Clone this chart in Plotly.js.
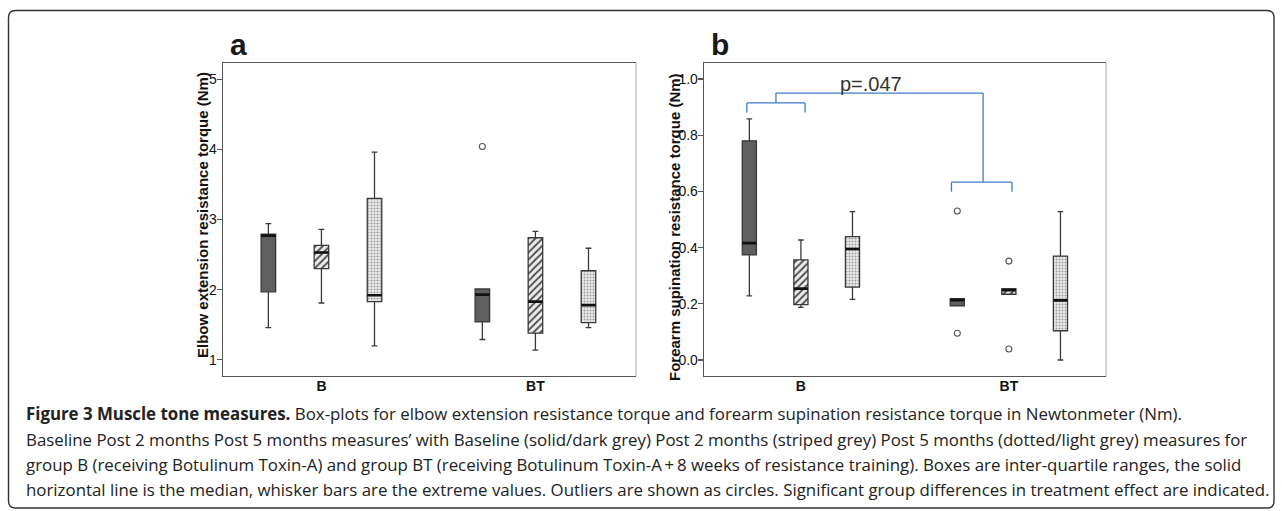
<!DOCTYPE html>
<html>
<head>
<meta charset="utf-8">
<script src="https://cdn.plot.ly/plotly-3.0.1.min.js"></script>
<style>html,body{margin:0;padding:0;background:#fff;}#chart{width:1282px;height:511px;}</style>
</head>
<body>
<div id="chart"></div>
<script>
// ---------- data ----------
const groups = ['B', 'BT'];
const periods = ['Baseline', 'Post 2 months', 'Post 5 months'];

// Panel a: elbow extension resistance torque (Nm); rows = period, columns = [B, BT]
const elbowLow  = [[1.46, 1.29], [1.81, 1.14], [1.20, 1.46]];
const elbowQ1   = [[1.97, 1.54], [2.30, 1.38], [1.83, 1.53]];
const elbowMed  = [[2.77, 1.93], [2.53, 1.83], [1.92, 1.78]];
const elbowQ3   = [[2.79, 2.01], [2.63, 2.74], [3.30, 2.27]];
const elbowHigh = [[2.94, 2.01], [2.86, 2.83], [3.96, 2.59]];
const elbowOutliers = [[[], [4.04]], [[], []], [[], []]];

// Panel b: forearm supination resistance torque (Nm)
const supLow  = [[0.228, 0.193], [0.187, 0.234], [0.216, 0.000]];
const supQ1   = [[0.374, 0.193], [0.197, 0.234], [0.259, 0.104]];
const supMed  = [[0.416, 0.213], [0.254, 0.248], [0.395, 0.212]];
const supQ3   = [[0.780, 0.218], [0.356, 0.254], [0.439, 0.370]];
const supHigh = [[0.858, 0.218], [0.427, 0.254], [0.528, 0.528]];
const supOutliers = [[[], [0.530, 0.095]], [[], [0.352, 0.039]], [[], []]];

const elbowTicks = [1, 2, 3, 4, 5];
const supTicks = [0.0, 0.2, 0.4, 0.6, 0.8, 1.0];

// significance bracket (panel b): levels in Nm
const sigText = 'p=.047';
const bracketLevels = { left: 0.915, right: 0.633, top: 0.950, leg: 0.034 };

const captionLines = [
  '<b>Figure 3 Muscle tone measures.</b> Box-plots for elbow extension resistance torque and forearm supination resistance torque in Newtonmeter (Nm).',
  'Baseline Post 2 months Post 5 months measures\u2019 with Baseline (solid/dark grey) Post 2 months (striped grey) Post 5 months (dotted/light grey) measures for',
  'group B (receiving Botulinum Toxin-A) and group BT (receiving Botulinum Toxin-A\u2009+\u20098 weeks of resistance training). Boxes are inter-quartile ranges, the solid',
  'horizontal line is the median, whisker bars are the extreme values. Outliers are shown as circles. Significant group differences in treatment effect are indicated.'
];

// ---------- styles ----------
const slot = 0.248;
const offsets = [-slot, 0, slot];
const boxW = 0.068;
const periodStyle = [
  { fill: '#5f5f5f', pattern: null },
  { fill: 'rgba(0,0,0,0)', bg: '#ececec', pattern: { shape: '/', fgcolor: '#4a4a4a', bgcolor: '#ececec', size: 5, solidity: 0.35 } },
  { fill: 'rgba(0,0,0,0)', bg: '#e8e8e8', pattern: { shape: '.', fgcolor: '#9c9c9c', bgcolor: '#ececec', size: 3, solidity: 0.35 } }
];

const traces = [];
function buildPanel(xa, ya, lo, q1, med, q3, hi, outl) {
  periods.forEach((p, pi) => {
    const xs = groups.map((g, gi) => gi + offsets[pi]);
    const st = periodStyle[pi];
    if (st.pattern) {
      traces.push({
        type: 'bar', xaxis: xa, yaxis: ya, x: xs, base: q1[pi],
        y: q3[pi].map((v, i) => v - q1[pi][i]), width: boxW,
        marker: { color: st.bg, pattern: st.pattern, line: { width: 0 } },
        showlegend: false, hoverinfo: 'skip', name: p
      });
    }
    traces.push({
      type: 'box', xaxis: xa, yaxis: ya, x: xs, name: p,
      q1: q1[pi], median: med[pi], q3: q3[pi], lowerfence: lo[pi], upperfence: hi[pi],
      width: boxW, whiskerwidth: 0.4, boxpoints: false,
      fillcolor: st.fill, line: { color: '#3a3a3a', width: 1.3 }, showlegend: false
    });
    // thick median line
    traces.push({
      type: 'box', xaxis: xa, yaxis: ya, x: xs, name: p + ' median',
      q1: med[pi], median: med[pi], q3: med[pi], lowerfence: med[pi], upperfence: med[pi],
      width: boxW, whiskerwidth: 0, boxpoints: false,
      fillcolor: 'rgba(0,0,0,0)', line: { color: '#111', width: 2.6 }, showlegend: false
    });
    const ox = [], oy = [];
    groups.forEach((g, gi) => outl[pi][gi].forEach(v => { ox.push(gi + offsets[pi]); oy.push(v); }));
    if (ox.length) {
      traces.push({
        type: 'scatter', mode: 'markers', xaxis: xa, yaxis: ya, x: ox, y: oy,
        marker: { symbol: 'circle-open', size: 6, color: '#555', line: { width: 1.1, color: '#555' } },
        showlegend: false, hoverinfo: 'y'
      });
    }
  });
}
buildPanel('x', 'y', elbowLow, elbowQ1, elbowMed, elbowQ3, elbowHigh, elbowOutliers);
buildPanel('x2', 'y2', supLow, supQ1, supMed, supQ3, supHigh, supOutliers);

// ---------- layout ----------
const W = 1282, H = 511;
const px = v => v / W, py = v => (H - v) / H;
const yDom = [py(376), py(63)];
const axisFont = { family: 'Liberation Sans, Arial, sans-serif', size: 14, color: '#111' };
const xBase = {
  tickvals: [0, 1], ticktext: groups, ticks: '', showgrid: false, zeroline: false,
  showline: true, mirror: true, linecolor: '#555', linewidth: 1.3,
  tickfont: { family: 'Liberation Sans, Arial, sans-serif', size: 14, color: '#111', weight: 'bold' },
  ticklabelstandoff: -3, fixedrange: true
};
const yBase = {
  ticks: 'outside', ticklen: 5, tickcolor: '#555', tickwidth: 1.2, showgrid: false, zeroline: false,
  showline: true, linecolor: '#555', linewidth: 1.3, tickfont: axisFont, fixedrange: true,
  ticklabelstandoff: -3
};

// bracket shapes derived from box positions
const bl = [0 + offsets[0], 0 + offsets[1]];
const br = [1 + offsets[0], 1 + offsets[1]];
const blue = '#3d7cc9';
const seg = (x0, y0, x1, y1) => ({ type: 'line', xref: 'x2', yref: 'y2', x0, y0, x1, y1, line: { color: blue, width: 1.3 } });
const midL = (bl[0] + bl[1]) / 2, midR = (br[0] + br[1]) / 2;
const shapes = [
  seg(bl[0] - 0.012, bracketLevels.left, bl[1] + 0.02, bracketLevels.left),
  seg(bl[0] - 0.012, bracketLevels.left, bl[0] - 0.012, bracketLevels.left - bracketLevels.leg),
  seg(bl[1] + 0.02, bracketLevels.left, bl[1] + 0.02, bracketLevels.left - bracketLevels.leg),
  seg(midL + 0.004, bracketLevels.left, midL + 0.004, bracketLevels.top),
  seg(midL + 0.004, bracketLevels.top, midR, bracketLevels.top),
  seg(midR, bracketLevels.top, midR, bracketLevels.right),
  seg(br[0] - 0.028, bracketLevels.right, br[1] + 0.015, bracketLevels.right),
  seg(br[0] - 0.028, bracketLevels.right, br[0] - 0.028, bracketLevels.right - bracketLevels.leg),
  seg(br[1] + 0.015, bracketLevels.right, br[1] + 0.015, bracketLevels.right - bracketLevels.leg),
  // light right edges of the panels
  { type: 'line', xref: 'x domain', yref: 'y domain', x0: 1, x1: 1, y0: 0, y1: 1, line: { color: '#bdbdbd', width: 1.3 } },
  { type: 'line', xref: 'x2 domain', yref: 'y2 domain', x0: 1, x1: 1, y0: 0, y1: 1, line: { color: '#bdbdbd', width: 1.3 } }
];
// outer rounded frame
(function () {
  const x0 = px(8.5), x1 = px(1274), y0 = py(508), y1 = py(10.5);
  const rx = 7 / W, ry = 7 / H;
  shapes.push({
    type: 'path', xref: 'paper', yref: 'paper', layer: 'below',
    path: `M ${x0 + rx},${y1} L ${x1 - rx},${y1} Q ${x1},${y1} ${x1},${y1 - ry} L ${x1},${y0 + ry} Q ${x1},${y0} ${x1 - rx},${y0} L ${x0 + rx},${y0} Q ${x0},${y0} ${x0},${y0 + ry} L ${x0},${y1 - ry} Q ${x0},${y1} ${x0 + rx},${y1} Z`,
    line: { color: '#333', width: 1.4 }
  });
})();

const titleFont = { family: 'Liberation Sans, Arial, sans-serif', size: 15, color: '#111', weight: 'bold' };
const panelFont = { family: 'Liberation Sans, Arial, sans-serif', size: 30, color: '#1a1a1a', weight: 'bold' };
const annotations = [
  { xref: 'paper', yref: 'paper', x: px(238), y: py(44), xanchor: 'center', yanchor: 'middle',
    text: 'a', showarrow: false, font: panelFont },
  { xref: 'paper', yref: 'paper', x: px(720), y: py(44), xanchor: 'center', yanchor: 'middle',
    text: 'b', showarrow: false, font: panelFont },
  { xref: 'paper', yref: 'paper', x: px(202), y: py(215), xanchor: 'center', yanchor: 'middle', textangle: -90, showarrow: false,
    text: 'Elbow extension resistance torque (Nm)', font: titleFont },
  { xref: 'paper', yref: 'paper', x: px(674), y: py(227), xanchor: 'center', yanchor: 'middle', textangle: -90, showarrow: false,
    text: 'Forearm supination resistance torque (Nm)', font: titleFont },
  { xref: 'x2', yref: 'y2', x: (midL + midR) / 2 - 0.04, y: bracketLevels.top - 0.014, xanchor: 'center', yanchor: 'bottom',
    text: sigText, showarrow: false,
    font: { family: 'Liberation Sans, Arial, sans-serif', size: 20, color: '#333' } }
];
const capY = [413, 439, 464, 489];
captionLines.forEach((t, i) => annotations.push({
  xref: 'paper', yref: 'paper', x: px(24), y: py(capY[i]), xanchor: 'left', yanchor: 'middle',
  text: t, showarrow: false, align: 'left',
  font: { family: 'Open Sans, Noto Sans, sans-serif', size: 16.85, color: '#222' }
}));

const layout = {
  width: W, height: H, autosize: false,
  margin: { l: 0, r: 0, t: 0, b: 0 },
  paper_bgcolor: '#fff', plot_bgcolor: '#fff',
  barmode: 'overlay', boxmode: 'overlay', showlegend: false,
  xaxis: Object.assign({}, xBase, { domain: [px(223), px(636)], range: [-0.46, 1.47], anchor: 'y' }),
  yaxis: Object.assign({}, yBase, { domain: yDom, range: [0.77, 5.23], tickvals: elbowTicks, anchor: 'x' }),
  xaxis2: Object.assign({}, xBase, { domain: [px(704), px(1106)], range: [-0.466, 1.467], anchor: 'y2' }),
  yaxis2: Object.assign({}, yBase, { domain: yDom, range: [-0.057, 1.057], tickvals: supTicks, tickformat: '.1f', anchor: 'x2' }),
  shapes: shapes,
  annotations: annotations
};

Plotly.newPlot('chart', traces, layout, { staticPlot: true, displayModeBar: false });
</script>
</body>
</html>
